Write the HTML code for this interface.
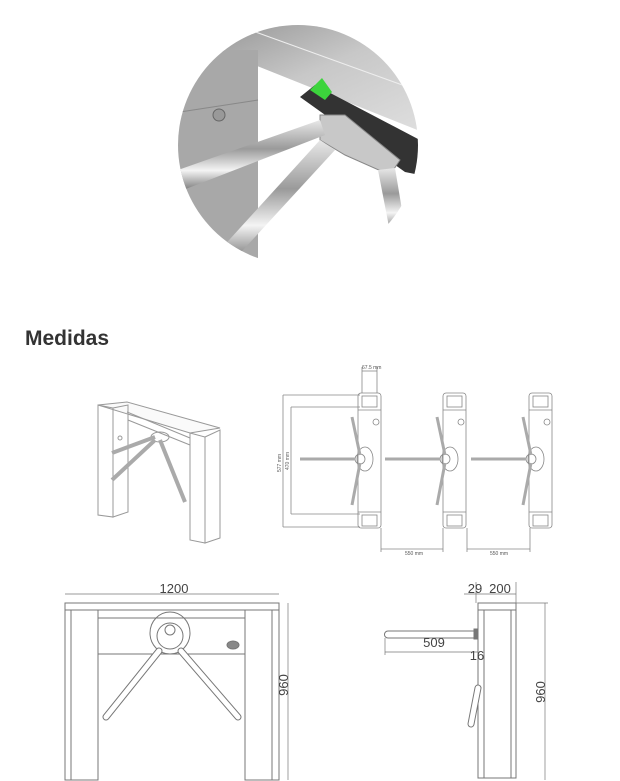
<!DOCTYPE html>
<html><head><meta charset="utf-8"><style>
html,body{margin:0;padding:0;background:#fff;width:620px;height:781px;overflow:hidden}
svg{display:block}
text{font-family:"Liberation Sans",sans-serif}
</style></head><body>
<svg width="620" height="781" viewBox="0 0 620 781" xmlns="http://www.w3.org/2000/svg">
<defs>
<clipPath id="c"><circle cx="298" cy="145" r="120"/></clipPath>
<linearGradient id="bar" x1="0" y1="0" x2="0" y2="1">
<stop offset="0" stop-color="#e8e8e8"/><stop offset="0.4" stop-color="#9a9a9a"/><stop offset="0.7" stop-color="#f4f4f4"/><stop offset="1" stop-color="#707070"/></linearGradient>
<linearGradient id="beam" x1="0" y1="0" x2="1" y2="1">
<stop offset="0" stop-color="#8a8a8a"/><stop offset="0.5" stop-color="#c8c8c8"/><stop offset="1" stop-color="#e0e0e0"/></linearGradient>
</defs>
<!-- photo -->
<g clip-path="url(#c)">
<rect x="170" y="20" width="260" height="250" fill="#fff"/>
<polygon points="170,20 430,20 430,135 217,50 170,50" fill="url(#beam)"/>
<line x1="250" y1="30" x2="430" y2="95" stroke="#eee" stroke-width="1"/>
<rect x="178" y="50" width="80" height="220" fill="#a8a8a8"/>
<line x1="180" y1="112" x2="258" y2="100" stroke="#888"/>
<polygon points="300,97 315,85 420,140 420,175 405,172" fill="#333"/>
<polygon points="310,90 322,78 332,92 325,100" fill="#3cd43c"/>
<polygon points="320,115 345,115 400,160 390,175 345,155 320,140" fill="#c8c8c8" stroke="#888"/>
<circle cx="219" cy="115" r="6" fill="#999" stroke="#666"/>
<polygon points="178,170 320,120 325,135 178,192" fill="url(#bar)"/>
<polygon points="220,250 320,140 335,150 232,262" fill="url(#bar)"/>
<polygon points="378,170 395,168 405,228 390,232" fill="url(#bar)"/>
</g>
<text x="25" y="345" font-size="21" font-weight="bold" fill="#333">Medidas</text>

<g fill="none" stroke="#999" stroke-width="1">
<polygon points="98,405 127,402 220,428 190,433" fill="#fafafa"/>
<line x1="127" y1="412" x2="190" y2="438"/>
<polygon points="98,405 113,408 113,517 98,515" />
<polygon points="113,408 128,405 128,512 113,517"/>
<polygon points="190,433 205,437 205,543 190,540"/>
<polygon points="205,437 220,430 220,538 205,543"/>
<line x1="128" y1="420" x2="190" y2="445"/>
<ellipse cx="160" cy="437" rx="9" ry="5"/>
<line x1="155" y1="437" x2="112" y2="453" stroke-width="4" stroke="#aaa"/>
<line x1="155" y1="440" x2="112" y2="480" stroke-width="4" stroke="#aaa"/>
<line x1="160" y1="440" x2="185" y2="502" stroke-width="4" stroke="#aaa"/>
<circle cx="120" cy="438" r="2"/>
</g>

<g fill="none" stroke="#888" stroke-width="0.8">
<line x1="283" y1="395" x2="283" y2="527"/><line x1="291" y1="407" x2="291" y2="514"/>
<line x1="283" y1="395" x2="360" y2="395"/><line x1="283" y1="527" x2="360" y2="527"/>
<line x1="291" y1="407" x2="360" y2="407"/><line x1="291" y1="514" x2="360" y2="514"/>
<line x1="362" y1="367" x2="362" y2="393"/><line x1="377" y1="367" x2="377" y2="393"/><line x1="362" y1="371" x2="377" y2="371"/>
<line x1="381" y1="528" x2="381" y2="552"/><line x1="443" y1="528" x2="443" y2="552"/><line x1="381" y1="549" x2="443" y2="549"/>
<line x1="467" y1="528" x2="467" y2="552"/><line x1="530" y1="528" x2="530" y2="552"/><line x1="467" y1="549" x2="530" y2="549"/>
<g id="u1">
<rect x="358" y="393" width="23" height="135" rx="3"/>
<line x1="358" y1="410" x2="381" y2="410"/><line x1="358" y1="512" x2="381" y2="512"/>
<rect x="362" y="396" width="15" height="11"/><rect x="362" y="515" width="15" height="11"/>
<circle cx="376" cy="422" r="3"/>
<ellipse cx="365" cy="459" rx="8" ry="12"/><circle cx="360" cy="459" r="5"/>
<line x1="360" y1="455" x2="352" y2="417" stroke-width="3" stroke="#aaa"/>
<line x1="360" y1="463" x2="352" y2="505" stroke-width="3" stroke="#aaa"/>
</g>
<use href="#u1" x="85"/><use href="#u1" x="171"/>
<line x1="300" y1="459" x2="355" y2="459" stroke-width="3" stroke="#aaa"/>
<line x1="385" y1="459" x2="440" y2="459" stroke-width="3" stroke="#aaa"/>
<line x1="471" y1="459" x2="526" y2="459" stroke-width="3" stroke="#aaa"/>
</g>
<g font-size="5" fill="#555">
<text x="362" y="369">67.5 mm</text>
<text x="405" y="555">550 mm</text><text x="490" y="555">550 mm</text>
<text transform="translate(281,472) rotate(-90)">577 mm</text>
<text transform="translate(289,470) rotate(-90)">470 mm</text>
</g>

<g fill="none" stroke="#777" stroke-width="1">
<line x1="65" y1="594" x2="279" y2="594" stroke-width="0.7"/>
<rect x="65" y="603" width="214" height="7"/>
<rect x="65" y="610" width="33" height="170"/><line x1="71" y1="610" x2="71" y2="780"/>
<rect x="245" y="610" width="34" height="170"/><line x1="272" y1="610" x2="272" y2="780"/>
<line x1="98" y1="618" x2="245" y2="618"/><line x1="98" y1="654" x2="245" y2="654"/>
<line x1="288" y1="603" x2="288" y2="780" stroke-width="0.7"/>
<ellipse cx="170" cy="633" rx="20" ry="21"/><ellipse cx="170" cy="636" rx="13" ry="13"/>
<circle cx="170" cy="630" r="5"/>
<ellipse cx="233" cy="645" rx="6" ry="4" fill="#888"/>
<line x1="159" y1="651" x2="106" y2="717" stroke-width="7" stroke="#777" stroke-linecap="round"/>
<line x1="159" y1="651" x2="106" y2="717" stroke-width="5" stroke="#fff" stroke-linecap="round"/>
<line x1="181" y1="651" x2="238" y2="717" stroke-width="7" stroke="#777" stroke-linecap="round"/>
<line x1="181" y1="651" x2="238" y2="717" stroke-width="5" stroke="#fff" stroke-linecap="round"/>
</g>
<text x="174" y="593" font-size="13" fill="#444" text-anchor="middle">1200</text>
<text transform="translate(288,685) rotate(-90)" font-size="13" fill="#444" text-anchor="middle">960</text>

<g fill="none" stroke="#777" stroke-width="1">
<rect x="478" y="603" width="38" height="7"/>
<rect x="478" y="610" width="38" height="168"/><line x1="484" y1="610" x2="484" y2="778"/><line x1="511" y1="610" x2="511" y2="778"/>
<line x1="464" y1="594" x2="516" y2="594" stroke-width="0.7"/>
<line x1="476" y1="582" x2="476" y2="603" stroke-width="0.7"/><line x1="516" y1="582" x2="516" y2="603" stroke-width="0.7"/>
<line x1="545" y1="603" x2="545" y2="780" stroke-width="0.7"/>
<line x1="516" y1="603" x2="548" y2="603" stroke-width="0.7"/>
<line x1="385" y1="652" x2="478" y2="652" stroke-width="0.7"/>
<line x1="385" y1="638" x2="385" y2="655" stroke-width="0.7"/>
<path d="M478,631 L388,631 A3.5,3.5 0 0 0 388,638 L478,638"/>
<rect x="474" y="629" width="4" height="10" fill="#777"/>
<line x1="478" y1="688" x2="471" y2="724" stroke-width="7" stroke="#777" stroke-linecap="round"/>
<line x1="478" y1="688" x2="471" y2="724" stroke-width="5" stroke="#fff" stroke-linecap="round"/>
</g>
<g font-size="13" fill="#444" text-anchor="middle">
<text x="475" y="593">29</text><text x="500" y="593">200</text>
<text x="434" y="647">509</text><text x="477" y="660">16</text>
<text transform="translate(545,692) rotate(-90)">960</text>
</g>
</svg>
</body></html>
